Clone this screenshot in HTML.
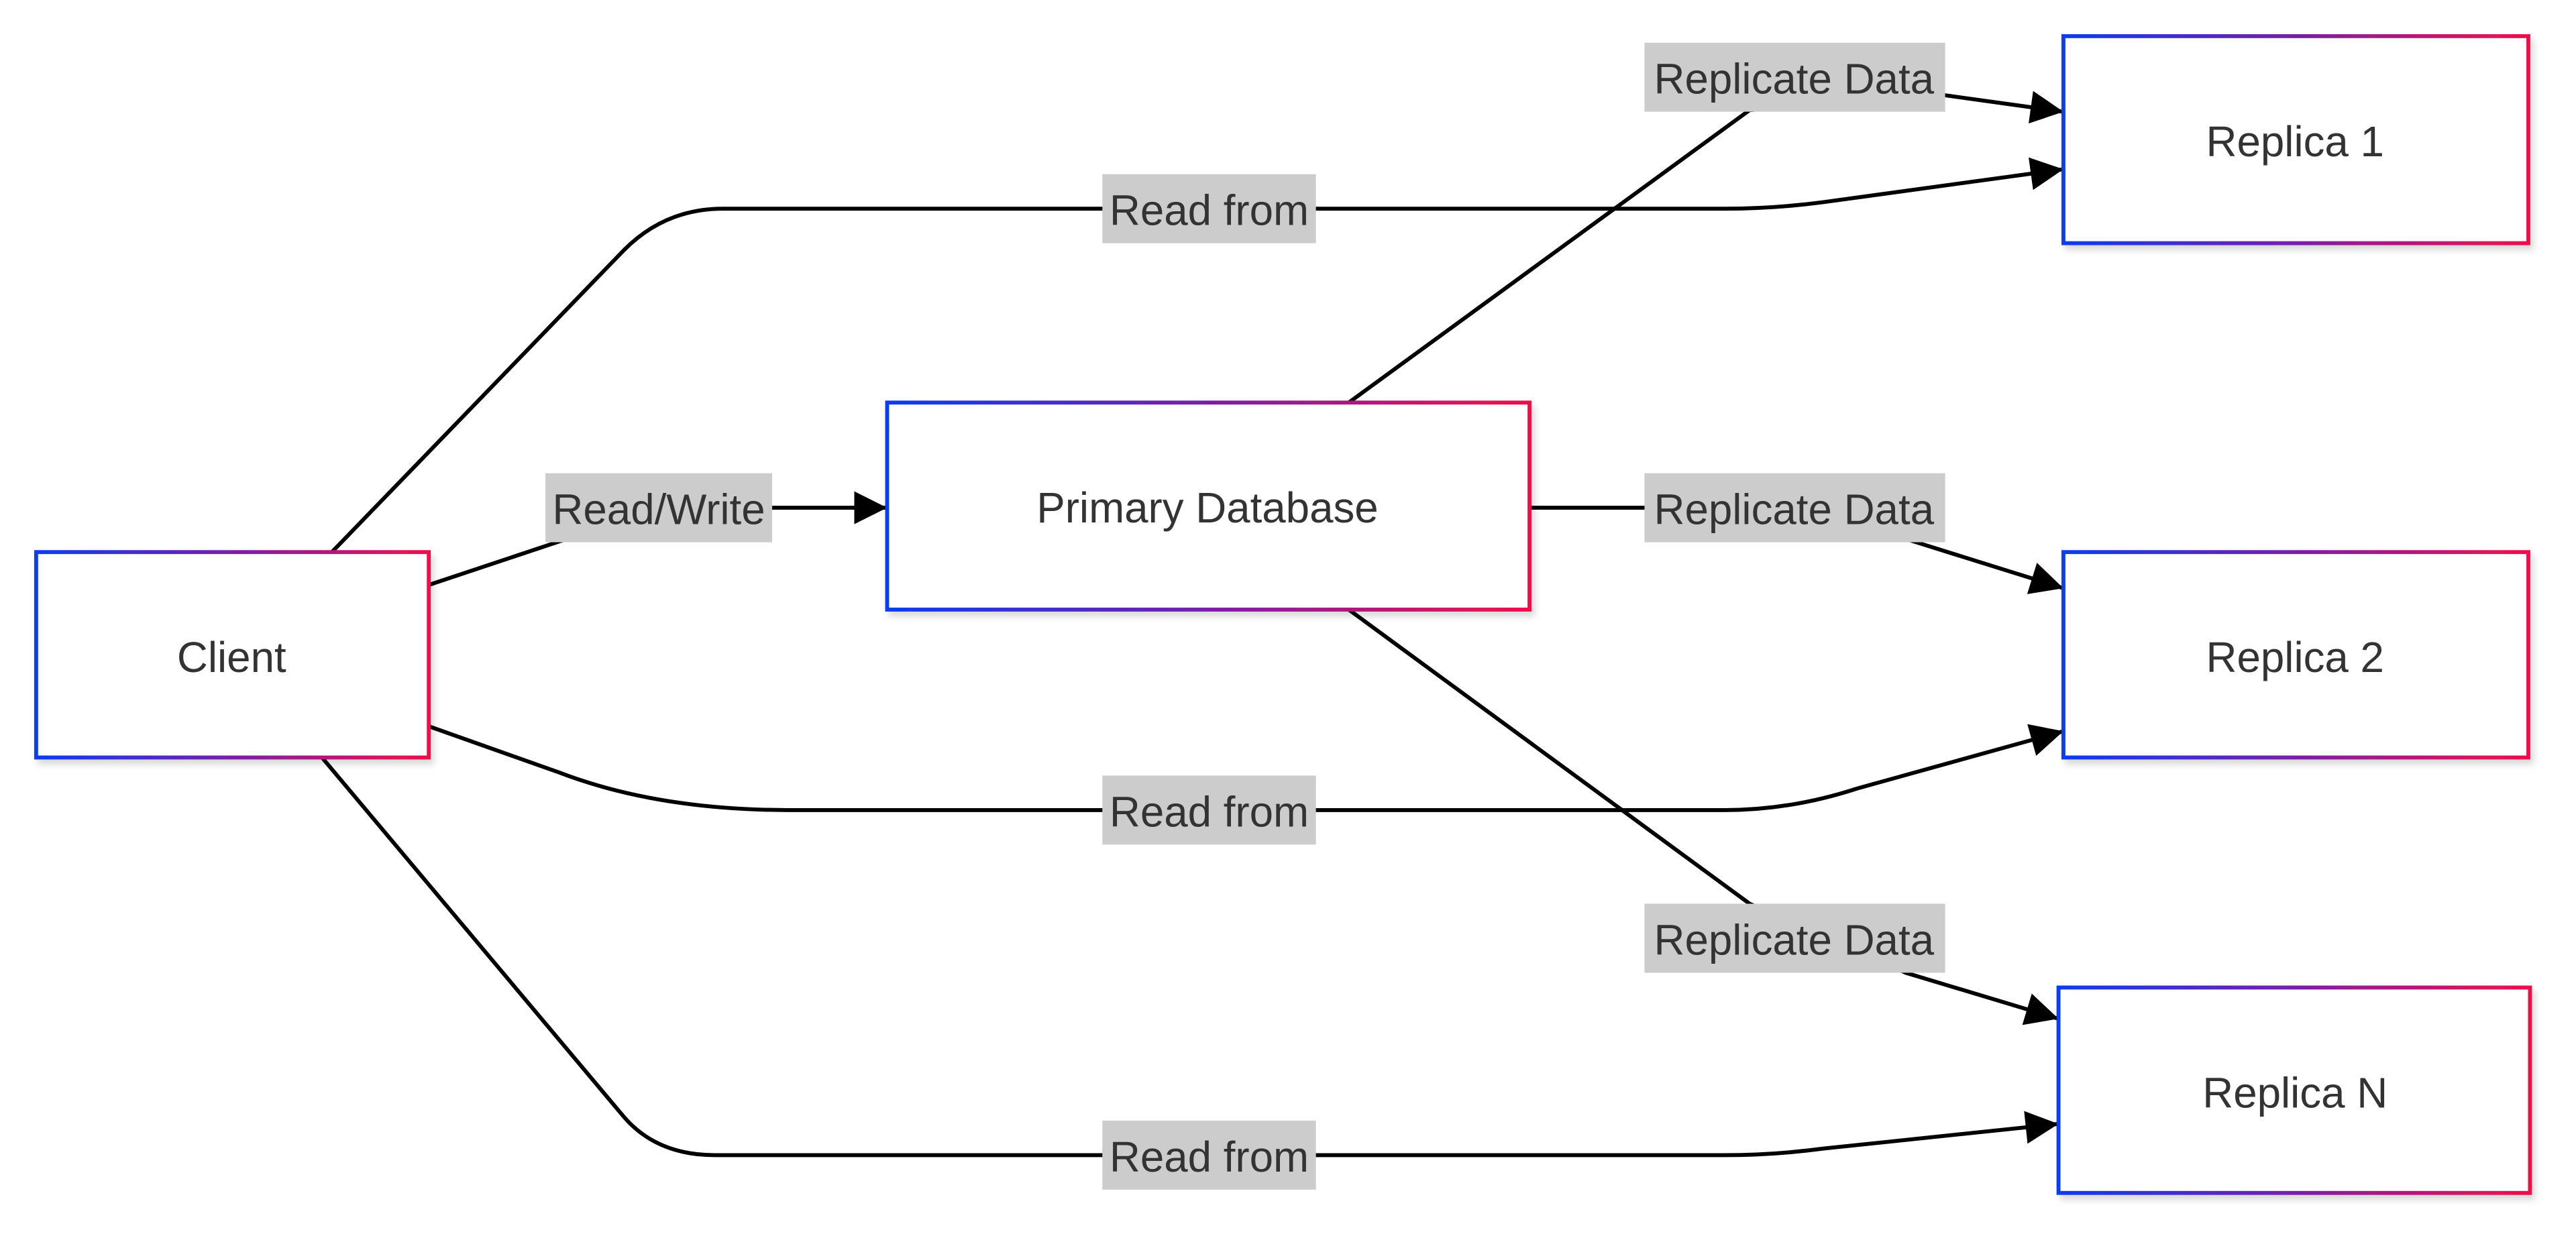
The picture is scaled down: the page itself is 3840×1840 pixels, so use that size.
<!DOCTYPE html>
<html><head><meta charset="utf-8"><style>
html,body{margin:0;padding:0;background:#fff;width:3840px;height:1840px;overflow:hidden}
svg{display:block}
text{font-family:"Liberation Sans",Arial,sans-serif;fill:#333}
</style></head><body>
<svg width="3840" height="1840" viewBox="0 0 1568 751" preserveAspectRatio="none" xmlns="http://www.w3.org/2000/svg">
<defs>
<linearGradient id="g" x1="0" y1="0" x2="1" y2="0">
<stop offset="0" stop-color="#0a3cf0"/><stop offset="0.5" stop-color="#7a1fa8"/><stop offset="1" stop-color="#f0104a"/>
</linearGradient>
<filter id="sh" x="-10%" y="-10%" width="130%" height="130%"><feDropShadow dx="2" dy="3" stdDeviation="2" flood-color="#000" flood-opacity="0.15"/></filter>
<marker id="a" viewBox="0 0 10 10" refX="10" refY="5" markerWidth="22" markerHeight="20" markerUnits="userSpaceOnUse" orient="auto">
<path d="M0,0 L10,5 L0,10 z" fill="#000"/></marker>
</defs>
<style>.e{fill:none;stroke:#000;stroke-width:2.4}.l{fill:#cccccc}</style>
<path class="e" d="M202,336 L380,152 Q405,127 440,127 L1050,127 Q1080,127 1110,123 L1256,103" marker-end="url(#a)"/>
<path class="e" d="M261,356 L345,328 L470,309 L540,309" marker-end="url(#a)"/>
<path class="e" d="M261,442 L340,470 Q400,493 480,493 L1050,493 Q1090,493 1130,480 L1256,445" marker-end="url(#a)"/>
<path class="e" d="M196,461 L380,680 Q400,703 435,703 L1050,703 Q1080,703 1110,699 L1253,684" marker-end="url(#a)"/>
<path class="e" d="M821,245 L1065,67 L1184,58 L1256,68" marker-end="url(#a)"/>
<path class="e" d="M931,309 L1001,309 L1160,328 L1256,358" marker-end="url(#a)"/>
<path class="e" d="M821,371 L1065,550 L1160,592 L1253,620" marker-end="url(#a)"/>
<rect class="l" x="671" y="106" width="130" height="42"/><text x="736" y="137" font-size="26" text-anchor="middle">Read from</text>
<rect class="l" x="332" y="288" width="138" height="42"/><text x="401" y="319" font-size="26" text-anchor="middle">Read/Write</text>
<rect class="l" x="671" y="472" width="130" height="42"/><text x="736" y="503" font-size="26" text-anchor="middle">Read from</text>
<rect class="l" x="671" y="682" width="130" height="42"/><text x="736" y="713" font-size="26" text-anchor="middle">Read from</text>
<rect class="l" x="1001" y="26" width="183" height="42"/><text x="1092" y="57" font-size="26" text-anchor="middle">Replicate Data</text>
<rect class="l" x="1001" y="288" width="183" height="42"/><text x="1092" y="319" font-size="26" text-anchor="middle">Replicate Data</text>
<rect class="l" x="1001" y="550" width="183" height="42"/><text x="1092" y="581" font-size="26" text-anchor="middle">Replicate Data</text>
<g filter="url(#sh)" fill="#fff" stroke="url(#g)" stroke-width="2.4">
<rect x="22" y="336" width="239" height="125"/>
<rect x="540" y="245" width="391" height="126"/>
<rect x="1256" y="22" width="283" height="126"/>
<rect x="1256" y="336" width="283" height="125"/>
<rect x="1253" y="601" width="287" height="125"/>
</g>
<text x="141" y="409" font-size="26" text-anchor="middle">Client</text>
<text x="735" y="318" font-size="26" text-anchor="middle">Primary Database</text>
<text x="1397" y="95" font-size="26" text-anchor="middle">Replica 1</text>
<text x="1397" y="409" font-size="26" text-anchor="middle">Replica 2</text>
<text x="1397" y="674" font-size="26" text-anchor="middle">Replica N</text>
</svg>
</body></html>
